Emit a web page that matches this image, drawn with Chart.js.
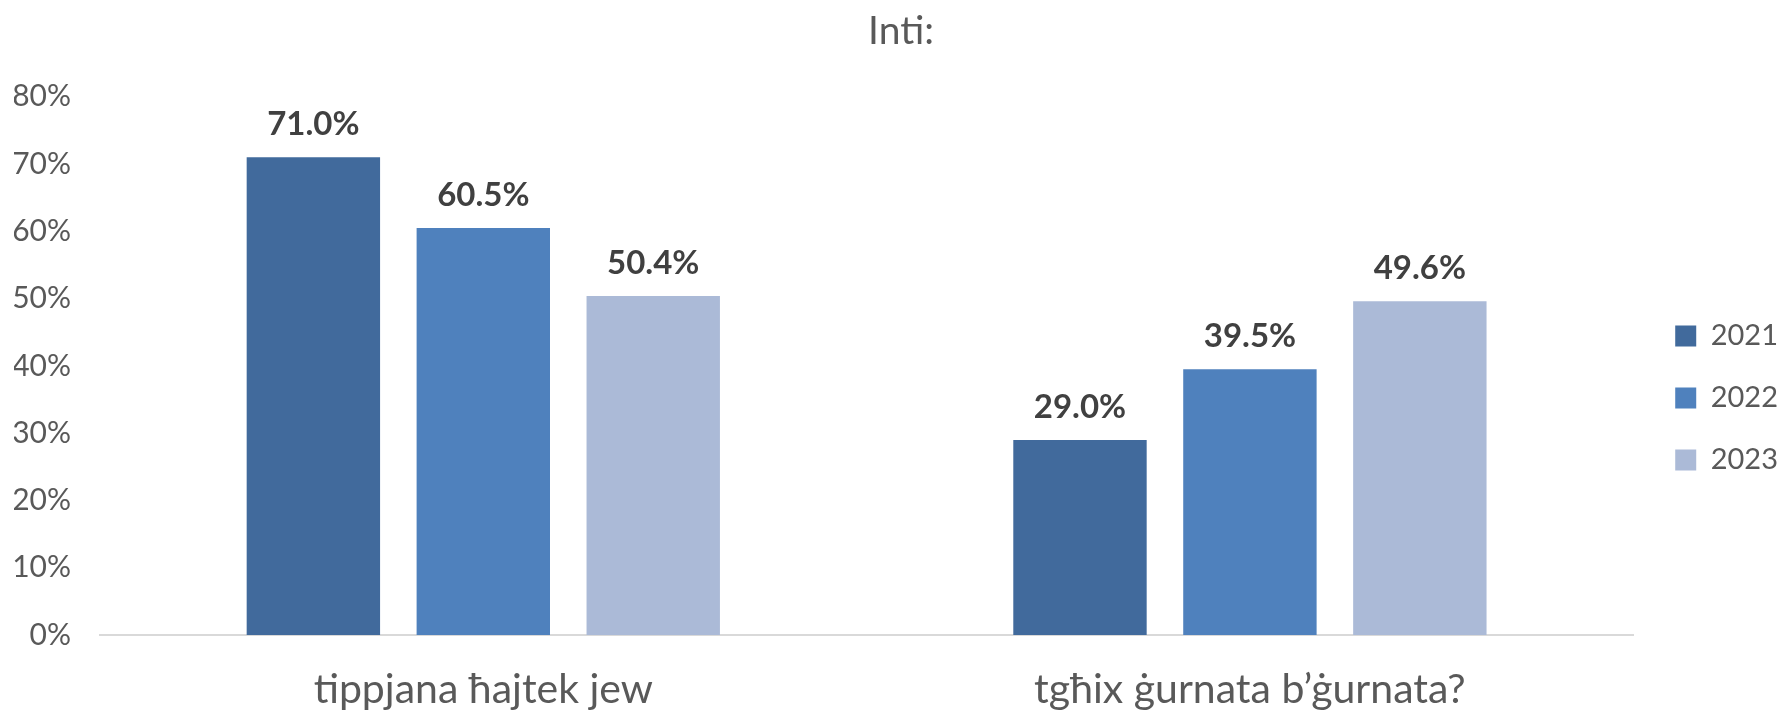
<!DOCTYPE html>
<html lang="mt">
<head>
<meta charset="UTF-8">
<title>Inti:</title>
<script src="https://cdn.jsdelivr.net/npm/chart.js"></script>
<style>
  html, body { margin: 0; padding: 0; background: #fff; overflow: hidden; }
  canvas { display: block; }
</style>
</head>
<body>
<canvas id="chart" width="1788" height="711"></canvas>
<script>
const categories = ['tippjana ħajtek jew', 'tgħix ġurnata b’ġurnata?'];
const years = ['2021', '2022', '2023'];
const values2021 = [71.0, 29.0];
const values2022 = [60.5, 39.5];
const values2023 = [50.4, 49.6];
const yTicks = [0, 10, 20, 30, 40, 50, 60, 70, 80];
const colors = ['#416A9C', '#4F81BD', '#ABBAD7'];

const FONT = 'Lato, "Open Sans", "Noto Sans", sans-serif';

// draws the bold value above each bar
const barLabels = {
  id: 'barLabels',
  afterDatasetsDraw(chart) {
    const ctx = chart.ctx;
    ctx.save();
    ctx.font = 'bold 33px ' + FONT;
    ctx.fillStyle = '#404040';
    ctx.textAlign = 'center';
    ctx.textBaseline = 'middle';
    chart.data.datasets.forEach((ds, i) => {
      chart.getDatasetMeta(i).data.forEach((bar, j) => {
        ctx.fillText(ds.data[j].toFixed(1) + '%', bar.x, bar.y - 33);
      });
    });
    ctx.restore();
  }
};

new Chart(document.getElementById('chart'), {
  type: 'bar',
  data: {
    labels: categories,
    datasets: [
      { label: years[0], data: values2021, backgroundColor: colors[0] },
      { label: years[1], data: values2022, backgroundColor: colors[1] },
      { label: years[2], data: values2023, backgroundColor: colors[2] }
    ]
  },
  options: {
    responsive: false,
    animation: false,
    devicePixelRatio: 1,
    layout: { padding: { left: 14, right: 0, top: 0, bottom: 0 } },
    datasets: { bar: { categoryPercentage: 0.665, barPercentage: 0.785 } },
    scales: {
      x: {
        grid: { display: false, drawTicks: false },
        border: { color: '#D9D9D9', width: 2 },
        ticks: { color: '#595959', font: { family: FONT, size: 41, lineHeight: 1 }, padding: 34, maxRotation: 0 },
        afterFit(axis) { axis.height = 76; }
      },
      y: {
        min: 0,
        max: 80,
        afterBuildTicks(axis) { axis.ticks = yTicks.map(v => ({ value: v })); },
        grid: { display: false, drawTicks: false },
        border: { display: false },
        ticks: {
          color: '#595959',
          font: { family: FONT, size: 30 },
          padding: 29,
          callback: v => v + '%'
        },
        afterFit(axis) { axis.width = 86; }
      },
      // empty spacer between plot and legend
      gap: {
        type: 'linear',
        position: 'right',
        display: true,
        grid: { display: false, drawTicks: false },
        border: { display: false },
        ticks: { display: false },
        afterFit(axis) { axis.width = 9; }
      }
    },
    plugins: {
      title: {
        display: true,
        text: 'Inti:',
        color: '#595959',
        font: { family: FONT, size: 39, weight: 'normal' },
        padding: { top: 8, bottom: 42 }
      },
      legend: {
        position: 'right',
        title: { display: true, text: '', font: { size: 1 }, padding: { top: 0, bottom: 84 } },
        labels: {
          color: '#595959',
          font: { family: FONT, size: 29 },
          boxWidth: 21,
          boxHeight: 21,
          padding: 33
        }
      },
      tooltip: { enabled: false }
    }
  },
  plugins: [barLabels]
});
</script>
</body>
</html>
